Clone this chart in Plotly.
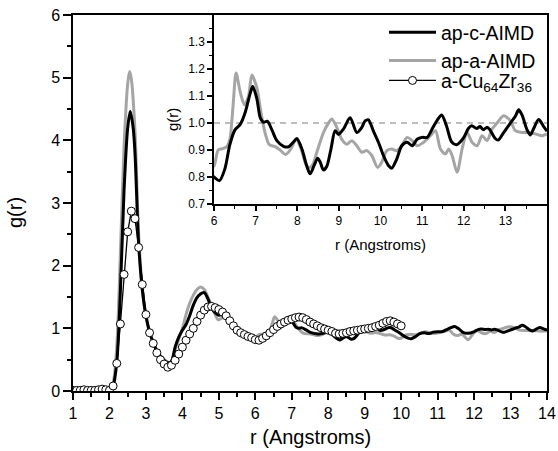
import plotly.graph_objects as go

# ---- ap-c-AIMD  (r in Angstroms, g(r)) ----
r_c = [1.0, 1.9, 2.0, 2.1, 2.2, 2.3, 2.4, 2.5, 2.57, 2.65, 2.7, 2.8, 2.9, 3.0, 3.1, 3.2, 3.3, 3.4,
       3.5, 3.6, 3.7, 3.8, 3.9, 4.0, 4.1, 4.2, 4.3, 4.4, 4.5, 4.6, 4.7, 4.8, 4.9, 5.0, 5.1, 5.2,
       5.3, 5.4, 5.5, 5.6, 5.7, 5.8, 5.9, 6.0,
       6.13, 6.26, 6.38, 6.5, 6.63, 6.75, 6.87, 6.93, 7.03, 7.11, 7.19, 7.28, 7.39, 7.51, 7.67,
       7.79, 7.91, 7.99, 8.11, 8.23, 8.31, 8.41, 8.49, 8.55, 8.63, 8.71, 8.81, 8.91, 8.99, 9.11,
       9.27, 9.43, 9.55, 9.63, 9.71, 9.83, 9.95, 10.07, 10.19, 10.27, 10.39, 10.51, 10.64, 10.76,
       10.88, 11.0, 11.12, 11.24, 11.36, 11.47, 11.59, 11.71, 11.83, 11.99, 12.11, 12.19, 12.31,
       12.39, 12.47, 12.56, 12.63, 12.75, 12.83, 12.95, 13.12, 13.24, 13.32, 13.4, 13.52, 13.6,
       13.68, 13.8, 13.92, 14.0]
g_c = [0.0, 0.0, 0.0, 0.08, 0.45, 1.6, 3.2, 4.2, 4.46, 4.2, 3.8, 2.35, 1.62, 1.2, 0.94, 0.77, 0.64, 0.55,
       0.49, 0.45, 0.47, 0.7, 0.86, 0.97, 1.06, 1.2, 1.37, 1.49, 1.55, 1.57, 1.47, 1.33, 1.25, 1.21, 1.22, 1.18,
       1.1, 1.02, 0.96, 0.92, 0.89, 0.85, 0.82, 0.8,
       0.787, 0.83, 0.92, 0.974, 0.995, 1.04, 1.11, 1.135, 1.09, 1.02, 1.003, 1.007, 0.975, 0.935, 0.914,
       0.912, 0.93, 0.943, 0.905, 0.84, 0.812, 0.845, 0.87, 0.856, 0.826, 0.84, 0.904, 0.972, 0.958, 0.978,
       1.02, 0.965, 0.984, 1.008, 1.012, 0.97, 0.929, 0.88, 0.843, 0.833, 0.867, 0.916, 0.929, 0.916,
       0.94, 0.947, 0.947, 0.978, 1.01, 1.03, 0.987, 0.93, 0.92, 0.944, 0.98, 0.99, 0.98,
       0.987, 0.975, 0.985, 0.975, 0.944, 0.937, 0.963, 1.0, 1.025, 1.049, 1.03, 0.975, 0.956,
       0.98, 1.013, 0.987, 0.97]

# ---- ap-a-AIMD ----
r_a = [1.0, 1.9, 2.0, 2.1, 2.2, 2.3, 2.4, 2.5, 2.55, 2.6, 2.7, 2.8, 2.9, 3.0, 3.1, 3.2, 3.3, 3.4,
       3.5, 3.6, 3.65, 3.7, 3.8, 3.9, 4.0, 4.1, 4.2, 4.3, 4.4, 4.5, 4.6, 4.7, 4.8, 4.9, 4.97, 5.05,
       5.15, 5.25, 5.35, 5.45, 5.55, 5.65, 5.75, 5.85, 5.93, 6.0,
       6.1, 6.2, 6.3, 6.38, 6.43, 6.47, 6.53, 6.63, 6.73, 6.83, 6.91, 7.03, 7.13, 7.23, 7.33, 7.47,
       7.59, 7.72, 7.85, 7.97, 8.09, 8.2, 8.29, 8.37, 8.47, 8.63, 8.75, 8.83, 8.95, 9.07, 9.19,
       9.31, 9.43, 9.55, 9.67, 9.79, 9.93, 10.03, 10.15, 10.27, 10.39, 10.51, 10.64, 10.76, 10.88,
       11.04, 11.2, 11.32, 11.44, 11.56, 11.64, 11.72, 11.84, 11.96, 12.08, 12.2, 12.32, 12.44,
       12.56, 12.68, 12.8, 12.96, 13.12, 13.24, 13.4, 13.56, 13.72, 13.88, 14.0]
g_a = [0.0, 0.0, 0.0, 0.12, 0.7, 2.2, 3.9, 4.9, 5.1, 4.98, 4.15, 2.5, 1.65, 1.2, 0.95, 0.78, 0.65, 0.56,
       0.5, 0.46, 0.45, 0.48, 0.65, 0.83, 1.0, 1.22, 1.4, 1.53, 1.62, 1.66, 1.62, 1.5, 1.36, 1.22, 1.14, 1.15,
       1.2, 1.17, 1.1, 1.02, 0.96, 0.92, 0.9, 0.88, 0.86, 0.84,
       0.9, 0.905, 0.912, 0.94, 1.01, 1.09, 1.185, 1.115, 1.068, 1.1, 1.178, 1.13, 1.037, 0.962, 0.92, 0.913,
       0.9, 0.884, 0.905, 0.94, 0.905, 0.85, 0.835, 0.845, 0.892, 0.965, 1.0, 1.015, 0.984, 0.94, 0.922,
       0.935, 0.916, 0.892, 0.898, 0.88, 0.836, 0.855, 0.898, 0.904, 0.898, 0.916, 0.947, 0.935, 0.916,
       0.929, 0.953, 0.972, 0.904, 0.886, 0.904, 0.88, 0.818, 0.904, 0.965, 0.929, 0.916, 0.953,
       0.935, 0.978, 1.0, 1.027, 1.008, 0.972, 0.965, 0.965, 0.96, 0.953, 0.96]

# ---- a-Cu64Zr36 (experiment, 0.1 A steps from 1.0 to 10.0) ----
r_exp = [round(1.0 + 0.1 * i, 1) for i in range(91)]
g_exp = [0.01, 0.01, 0.01, 0.02, 0.01, 0.01, 0.01, 0.02, 0.03, 0.02,
         0.01, 0.08, 0.44, 1.07, 1.86, 2.54, 2.87, 2.75, 2.29, 1.70,
         1.22, 0.93, 0.76, 0.61, 0.50, 0.43, 0.38, 0.41, 0.49, 0.59,
         0.70, 0.81, 0.91, 1.00, 1.11, 1.21, 1.29, 1.34, 1.35, 1.33,
         1.30, 1.26, 1.20, 1.12, 1.04, 0.97, 0.93, 0.90, 0.87, 0.85,
         0.82, 0.81, 0.84, 0.88, 0.93, 0.98, 1.03, 1.07, 1.10, 1.13,
         1.15, 1.17, 1.18, 1.17, 1.14, 1.10, 1.07, 1.04, 1.01, 0.99,
         0.97, 0.95, 0.92, 0.91, 0.92, 0.93, 0.95, 0.96, 0.97, 0.98,
         0.99, 1.00, 1.01, 1.03, 1.05, 1.08, 1.11, 1.12, 1.10, 1.07,
         1.04]

# reference level g(r) = 1 in the inset
r_ref = [6, 14]
g_ref = [1.0, 1.0]

BLACK = "#000000"
GREY = "#a5a5a5"
FONT = "Liberation Sans, Arial, sans-serif"

fig = go.Figure()

# main panel
fig.add_trace(go.Scatter(x=r_a, y=g_a, mode="lines", name="ap-a-AIMD", legendrank=2,
                         line=dict(color=GREY, width=3, shape="spline", smoothing=0.8)))
fig.add_trace(go.Scatter(x=r_c, y=g_c, mode="lines", name="ap-c-AIMD", legendrank=1,
                         line=dict(color=BLACK, width=3, shape="spline", smoothing=0.8)))
fig.add_trace(go.Scatter(x=r_exp, y=g_exp, mode="lines+markers",
                         name="a-Cu<sub>64</sub>Zr<sub>36</sub>", legend="legend2",
                         line=dict(color=BLACK, width=1.3),
                         marker=dict(symbol="circle", size=8, color="white",
                                     line=dict(color=BLACK, width=1))))

# inset panel
fig.add_trace(go.Scatter(x=r_ref, y=g_ref, mode="lines", showlegend=False,
                         xaxis="x2", yaxis="y2",
                         line=dict(color="#bdbdbd", width=2, dash="6px,5px")))
fig.add_trace(go.Scatter(x=r_a, y=g_a, mode="lines", showlegend=False, xaxis="x2", yaxis="y2",
                         line=dict(color=GREY, width=3, shape="spline", smoothing=0.8)))
fig.add_trace(go.Scatter(x=r_c, y=g_c, mode="lines", showlegend=False, xaxis="x2", yaxis="y2",
                         line=dict(color=BLACK, width=3, shape="spline", smoothing=0.8)))

axis_common = dict(showgrid=False, zeroline=False, linecolor=BLACK, linewidth=1.5,
                   ticks="outside", tickcolor=BLACK, tickwidth=1.5, automargin=False,
                   tickfont=dict(family=FONT, color=BLACK))

legend_common = dict(xanchor="left", yanchor="top", bgcolor="rgba(0,0,0,0)",
                     borderwidth=0, itemwidth=47,
                     font=dict(family=FONT, size=19.5, color=BLACK))

# axis titles placed in paper coordinates
titles = [
    dict(text="r (Angstroms)", x=0.5, y=-0.1223, textangle=0, size=20),
    dict(text="g(r)", x=-0.1224, y=0.476, textangle=-90, size=20),
    dict(text="g(r)", x=0.2089, y=0.7207, textangle=-90, size=15),
]

fig.update_layout(
    width=558, height=451,
    margin=dict(l=73, r=11, t=15, b=60),
    paper_bgcolor="white", plot_bgcolor="white",
    font=dict(family=FONT, color=BLACK),
    xaxis=dict(axis_common, range=[1, 14], domain=[0, 1], anchor="y",
               tickmode="linear", tick0=1, dtick=1, ticklen=7, mirror=True,
               tickfont=dict(family=FONT, size=16, color=BLACK),
               minor=dict(tick0=1, dtick=0.5, ticks="outside", ticklen=4,
                          tickcolor=BLACK, tickwidth=1.5)),
    yaxis=dict(axis_common, range=[0, 6], domain=[0, 1], anchor="x",
               tickmode="linear", tick0=0, dtick=1, ticklen=8, mirror=True,
               tickfont=dict(family=FONT, size=16, color=BLACK),
               minor=dict(tick0=0, dtick=0.5, ticks="outside", ticklen=4,
                          tickcolor=BLACK, tickwidth=1.5)),
    xaxis2=dict(axis_common, range=[6, 14], domain=[0.2975, 1], anchor="y2",
                tickmode="array", tickvals=[6, 7, 8, 9, 10, 11, 12, 13], ticklen=5,
                showline=True, mirror=False,
                tickfont=dict(family=FONT, size=12, color=BLACK),
                minor=dict(tickvals=[6.5, 7.5, 8.5, 9.5, 10.5, 11.5, 12.5, 13.5],
                           ticks="outside", ticklen=3, tickcolor=BLACK, tickwidth=1),
                title=dict(text="r (Angstroms)", font=dict(family=FONT, size=15, color=BLACK),
                           standoff=12)),
    yaxis2=dict(axis_common, range=[0.7, 1.4], domain=[0.497, 1], anchor="x2",
                tickmode="array", tickvals=[0.7, 0.8, 0.9, 1.0, 1.1, 1.2, 1.3],
                ticktext=["0.7", "0.8", "0.9", "1.0", "1.1", "1.2", "1.3"], ticklen=5,
                showline=True, mirror=False,
                tickfont=dict(family=FONT, size=12, color=BLACK),
                minor=dict(tickvals=[0.75, 0.85, 0.95, 1.05, 1.15, 1.25, 1.35],
                           ticks="outside", ticklen=3, tickcolor=BLACK, tickwidth=1)),
    legend=dict(legend_common, x=0.6561, y=1.0053, traceorder="normal"),
    legend2=dict(legend_common, x=0.6561, y=0.877),
    showlegend=True,
    annotations=[dict(text=t["text"], x=t["x"], y=t["y"], xref="paper", yref="paper",
                      xanchor="center", yanchor="middle", textangle=t["textangle"],
                      showarrow=False, font=dict(family=FONT, size=t["size"], color=BLACK))
                 for t in titles],
)

fig.write_html("out.html")
